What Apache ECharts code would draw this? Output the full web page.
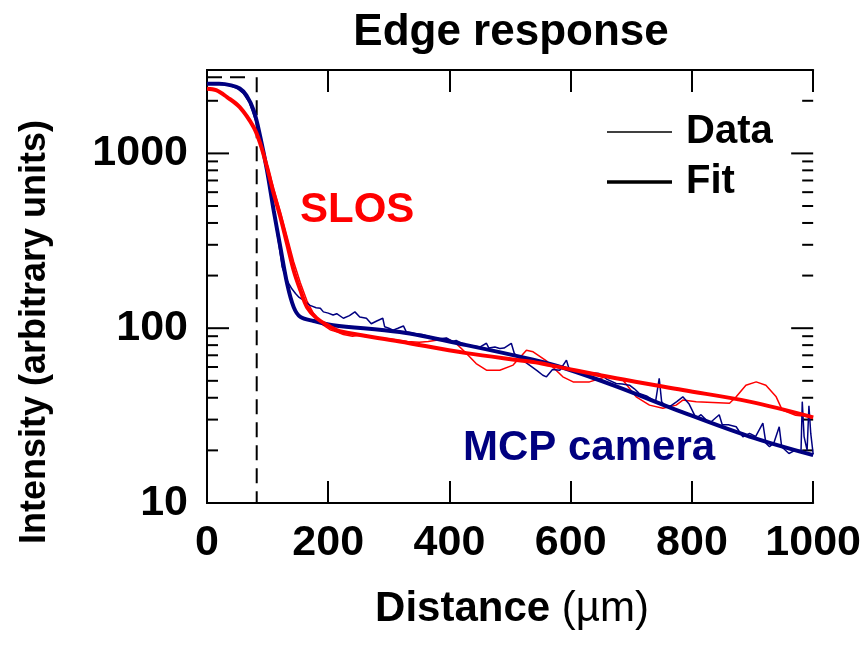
<!DOCTYPE html>
<html>
<head>
<meta charset="utf-8">
<script src="https://cdn.jsdelivr.net/npm/echarts@6/dist/echarts.min.js"></script>
<style>html,body{margin:0;padding:0;background:#fff;}#c{width:864px;height:647px;}</style>
</head>
<body>
<div id="c"></div>
<script>
// ---- tick values ----
const xTicks = [0, 200, 400, 600, 800, 1000];
const yMajor = [10, 100, 1000];
const yMinor = [20, 30, 40, 50, 60, 70, 80, 90, 200, 300, 400, 500, 600, 700, 800, 900, 2000, 3000];

// ---- MCP camera data (distance µm, intensity) ----
const mcpData = [
 [0,2500],[10,2520],[20,2500],[30,2480],[40,2430],[50,2350],[60,2200],[70,1950],[80,1550],[88,1200],
 [95,950],[100,760],[106,560],[112,420],[118,310],[124,224],[130,195],[135,180],[140,168],[146,158],
 [152,150],[159,145],[165,139],[170,135],[180,131],[187,130],[192,124],[200,122],[208,119],[214,121],
 [225,114],[235,118],[244,124],[252,116],[263,114],[271,106],[280,110],[290,114],[293,102],[300,100],
 [307,97.5],[315,100],[324,103],[329,95],[345,93],[355,92],[365,90],[375,88],[384,87],[395,88],
 [405,84],[411,85],[420,82],[428,80],[440,79],[450,78],[461,82],[465,77],[475,78],[483,76.6],
 [490,77],[502,82],[507,71.6],[515,68],[525,64],[532,61.5],[545,57],[554,53.8],[560,52.7],[570,58],
 [582,57.5],[593,65.6],[598,57.5],[610,57],[625,56],[647,55],[660,51],[675,48.3],[685,48],[697,47.2],
 [705,45],[713,42.4],[725,41],[740,38],[746,51.7],[750,38],[757,35.5],[765,36],[775,38],[785,40.5],
 [795,37],[807,30.5],[815,32],[829,28.6],[845,32],[850,28],[860,28],[873,27.3],[884,23.9],[895,25],
 [905,24],[917,28.6],[922,22],[928,21],[935,22],[944,27.3],[948,21],[960,19.2],[970,20],[980,20],
 [982,38],[985,24],[990,20],[993,36],[996,25],[1000,19]
];
// ---- MCP camera fit ----
const mcpFit = [
 [0,2500],[20,2500],[40,2450],[54,2350],[65,2150],[77,1760],[88,1240],[99,800],[110,472],[121,291],
 [132,181],[143,132],[154,116],[176,110],[208,104],[318,95],[428,80],[538,66],[590,59],[675,46.5],
 [785,33],[895,24],[1000,18.8]
];
// ---- SLOS data ----
const slosData = [
 [0,2345],[15,2300],[33,2100],[54,1840],[70,1560],[77,1440],[88,1170],[99,870],[110,630],[121,465],
 [132,335],[143,240],[154,182],[165,143],[176,121],[190,105],[203,98],[215,95],[225,92],[240,90],
 [250,91],[265,89],[280,88],[300,87],[330,84],[350,83],[365,84],[378,85.3],[395,87.3],[411,81.9],
 [428,71.7],[444,62.8],[461,57.5],[483,57.5],[505,61.5],[527,74.8],[538,73.3],[560,65],[587,52.7],
 [604,49.3],[631,49.3],[658,52.7],[686,50.5],[708,40.5],[730,36.3],[752,34.8],[774,36.3],[785,38.8],
 [807,37.9],[862,37.2],[873,40.5],[889,47.2],[906,49.3],[922,47.2],[939,40.5],[949,34],[971,31.8],
 [1000,30.9]
];
// ---- SLOS fit ----
const slosFit = [
 [0,2345],[15,2300],[33,2100],[54,1840],[77,1413],[88,1135],[99,835],[110,589],[121,433],[132,305],
 [143,214],[154,165],[165,132],[181,114],[203,102],[219,96],[318,84],[428,72],[538,64],[565,61.5],
 [675,51.7],[785,44.3],[895,38],[1000,30.9]
];
// ---- edge marker (dashed) ----
const edgeMarker = [[0,2730],[75,2730]];
const edgeLine = [[82,2730],[82,10]];

const NAVY = '#000080', RED = '#ff0000';
const FONT = '"Liberation Sans", Arial, Helvetica, sans-serif';

const chart = echarts.init(document.getElementById('c'), null, {renderer: 'canvas'});

const axisLine = {show: true, lineStyle: {color: '#000', width: 2}};
const yLabelSet = new Set(yMajor);
const yTickData = yMajor.map(v => [0, v, 22]).concat(yMinor.map(v => [0, v, 11]));

const option = {
  animation: false,
  backgroundColor: '#fff',
  grid: {left: 207, right: 50, top: 70, bottom: 144, containLabel: false},
  xAxis: [
    {type: 'value', min: 0, max: 1000, interval: 200, position: 'bottom',
     axisLine: axisLine, axisTick: {show: true, inside: true, length: 22, lineStyle: {color: '#000', width: 2}},
     axisLabel: {show: true, margin: 19, color: '#000', fontSize: 43, fontWeight: 'bold', fontFamily: FONT,
       formatter: v => xTicks.includes(v) ? String(v) : ''},
     splitLine: {show: false}},
    {type: 'value', min: 0, max: 1000, interval: 200, position: 'top',
     axisLine: axisLine, axisTick: {show: true, inside: true, length: 22, lineStyle: {color: '#000', width: 2}},
     axisLabel: {show: false}, splitLine: {show: false}}
  ],
  yAxis: [
    {type: 'log', logBase: 10, min: 10, max: 3000, position: 'left',
     axisLine: axisLine, axisTick: {show: false},
     axisLabel: {show: true, margin: 19, color: '#000', fontSize: 43, fontWeight: 'bold', fontFamily: FONT,
       showMaxLabel: false,
       formatter: v => { const r = Math.round(v); return yLabelSet.has(r) ? String(r) : ''; }},
     splitLine: {show: false}},
    {type: 'log', logBase: 10, min: 10, max: 3000, position: 'right',
     axisLine: axisLine, axisTick: {show: false},
     axisLabel: {show: false}, splitLine: {show: false}}
  ],
  series: [
    {type: 'custom', name: 'yTicks', xAxisIndex: 0, yAxisIndex: 0, silent: true, z: 1, clip: false,
     data: yTickData,
     renderItem: function (params, api) {
       const v = api.value(1);
       const len = api.value(2);
       const pL = api.coord([0, v]);
       const pR = api.coord([1000, v]);
       const st = {stroke: '#000', lineWidth: 2};
       return {type: 'group', children: [
         {type: 'line', shape: {x1: pL[0], y1: pL[1], x2: pL[0] + len, y2: pL[1]}, style: st},
         {type: 'line', shape: {x1: pR[0] - len, y1: pR[1], x2: pR[0], y2: pR[1]}, style: st}
       ]};
     }},
    {type: 'line', name: 'edge-h', data: edgeMarker, symbol: 'none', silent: true, z: 2,
     lineStyle: {color: '#000', width: 2, type: [15, 8]}},
    {type: 'line', name: 'edge-v', data: edgeLine, symbol: 'none', silent: true, z: 2,
     lineStyle: {color: '#000', width: 2, type: [15, 8]}},
    {type: 'line', name: 'SLOS data', data: slosData, symbol: 'none', z: 3,
     lineStyle: {color: RED, width: 1.5}},
    {type: 'line', name: 'MCP data', data: mcpData, symbol: 'none', z: 3,
     lineStyle: {color: NAVY, width: 1.5}},
    {type: 'line', name: 'MCP fit', data: mcpFit, symbol: 'none', smooth: 0.35, z: 4,
     lineStyle: {color: NAVY, width: 4}},
    {type: 'line', name: 'SLOS fit', data: slosFit, symbol: 'none', smooth: 0.35, z: 5,
     lineStyle: {color: RED, width: 4}}
  ],
  graphic: [
    {type: 'text', x: 511, y: 33, style: {text: 'Edge response', fill: '#000', font: 'bold 44px ' + FONT, textAlign: 'center', textVerticalAlign: 'middle'}},
    {type: 'text', x: 35, y: 332, rotation: Math.PI / 2, style: {text: 'Intensity (arbitrary units)', fill: '#000', font: 'bold 36px ' + FONT, textAlign: 'center', textVerticalAlign: 'middle'}},
    {type: 'text', x: 512, y: 609, style: {
      text: '{b|Distance }{n|(µm)}', textAlign: 'center', textVerticalAlign: 'middle',
      rich: {b: {fill: '#000', font: 'bold 42px ' + FONT}, n: {fill: '#000', font: '42px ' + FONT}}}},
    {type: 'text', x: 300, y: 210, style: {text: 'SLOS', fill: RED, font: 'bold 42px ' + FONT, textAlign: 'left', textVerticalAlign: 'middle'}},
    {type: 'text', x: 463, y: 448, style: {text: 'MCP camera', fill: NAVY, font: 'bold 42px ' + FONT, textAlign: 'left', textVerticalAlign: 'middle'}},
    {type: 'line', shape: {x1: 607, y1: 132, x2: 672, y2: 132}, style: {stroke: '#000', lineWidth: 1.5}},
    {type: 'line', shape: {x1: 607, y1: 182, x2: 672, y2: 182}, style: {stroke: '#000', lineWidth: 3.5}},
    {type: 'text', x: 686, y: 132, style: {text: 'Data', fill: '#000', font: 'bold 40px ' + FONT, textAlign: 'left', textVerticalAlign: 'middle'}},
    {type: 'text', x: 686, y: 182, style: {text: 'Fit', fill: '#000', font: 'bold 40px ' + FONT, textAlign: 'left', textVerticalAlign: 'middle'}}
  ]
};
chart.setOption(option);
</script>
</body>
</html>
